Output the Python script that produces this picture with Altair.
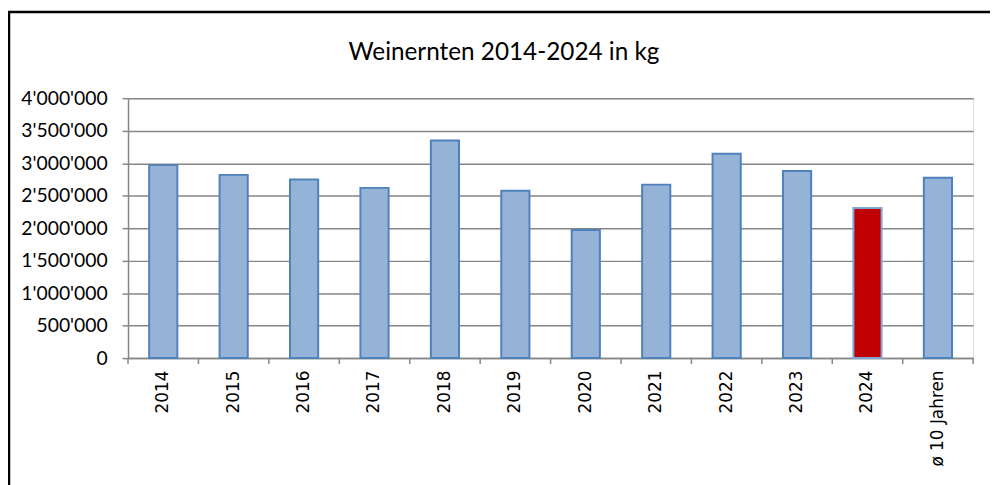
import altair as alt
import pandas as pd

categories = ["2014", "2015", "2016", "2017", "2018", "2019", "2020",
              "2021", "2022", "2023", "2024", "ø 10 Jahren"]
values_kg = [2970000, 2820000, 2750000, 2620000, 3350000, 2575000, 1970000,
             2670000, 3145000, 2880000, 2310000, 2775000]
fills = ["#95B3D7"] * 10 + ["#C00000", "#95B3D7"]
strokes = ["#4F81BD"] * 10 + ["#7FA6D8", "#4F81BD"]
y_ticks = [0, 500000, 1000000, 1500000, 2000000, 2500000, 3000000, 3500000, 4000000]
title_text = "Weinernten 2014-2024 in kg"

df = pd.DataFrame({"cat": categories, "kg": values_kg, "fill": fills, "stroke": strokes})

W, H = 852, 262
GRAY = "#868686"

x_scale = alt.Scale(domain=categories, paddingInner=0, paddingOuter=0)

bars = alt.Chart(df).mark_bar(width=alt.RelativeBandSize(0.4), strokeWidth=2).encode(
    x=alt.X("cat:N", scale=x_scale, sort=categories, title=None,
            axis=alt.Axis(labelAngle=-90, ticks=False, domainColor=GRAY, domainWidth=1.5,
                          labelFont="DejaVu Sans", labelFontSize=17, labelColor="#000000",
                          labelPadding=12, labelBaseline="middle", labelAlign="right")),
    y=alt.Y("kg:Q", scale=alt.Scale(domain=[0, 4000000], nice=False), title=None,
            axis=alt.Axis(values=y_ticks, format=",d", grid=True, gridColor=GRAY, gridWidth=1.5,
                          domainColor=GRAY, domainWidth=1.5, tickColor=GRAY, tickSize=6, tickWidth=1.5,
                          labelFont="Lato", labelFontSize=19.5, labelColor="#000000", labelPadding=15)),
    fill=alt.Fill("fill:N", scale=None),
    stroke=alt.Stroke("stroke:N", scale=None),
)

ticks = alt.Chart(df).mark_rule(color=GRAY, strokeWidth=1.5).encode(
    x=alt.X("cat:N", scale=x_scale, sort=categories, bandPosition=0),
    y=alt.value(H),
    y2=alt.value(H + 6),
)

last_tick = alt.Chart(alt.Data(values=[{}])).mark_rule(color=GRAY, strokeWidth=1.5).encode(
    x=alt.value(W), y=alt.value(H), y2=alt.value(H + 6)
)

frame = alt.Chart(alt.Data(values=[{}])).mark_rect(fillOpacity=0, stroke="#000000", strokeWidth=2.5).encode(
    x=alt.value(-120), x2=alt.value(1000), y=alt.value(-87), y2=alt.value(600)
)

title = alt.Chart(alt.Data(values=[{}])).mark_text(
    font="Lato", fontSize=24.5, color="#000000", align="center", baseline="alphabetic"
).encode(
    x=alt.value(379), y=alt.value(-39), text=alt.value(title_text)
)

chart = alt.layer(bars, ticks, last_tick, frame, title).properties(
    width=W, height=H,
    padding={"left": 121, "top": 89, "right": 17, "bottom": 126},
    autosize=alt.AutoSizeParams(type="none"),
).configure_view(strokeWidth=0).configure(
    locale={"number": {"decimal": ".", "thousands": "'", "grouping": [3], "currency": ["", ""]}}
)

chart.save("out.html", embed_options={"renderer": "svg", "actions": False})
